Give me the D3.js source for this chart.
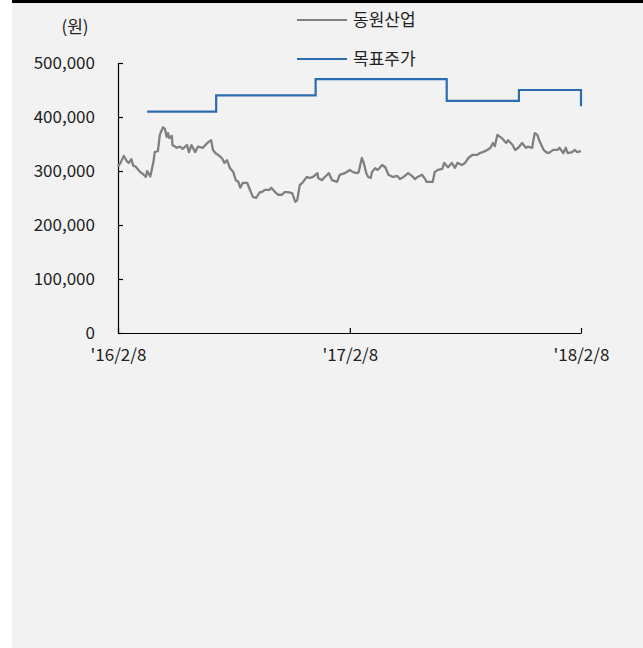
<!DOCTYPE html>
<html>
<head>
<meta charset="utf-8">
<script src="https://cdn.jsdelivr.net/npm/d3@7"></script>
<style>
  body { margin: 0; background: #fff; }
  text { font-family: "Noto Sans CJK KR", "Noto Sans", sans-serif; fill: #222; }
</style>
</head>
<body>
<svg width="643" height="648"></svg>
<script>
// 동원산업 주가 (원)
var priceDates = [
  "2016-02-08","2016-02-12","2016-02-17","2016-02-22","2016-02-25","2016-02-29","2016-03-03","2016-03-07",
  "2016-03-14","2016-03-18","2016-03-23","2016-03-25","2016-03-30","2016-04-04","2016-04-06","2016-04-11",
  "2016-04-14","2016-04-19","2016-04-22","2016-04-25","2016-04-27","2016-04-29","2016-05-03","2016-05-04",
  "2016-05-11","2016-05-16","2016-05-20","2016-05-27","2016-05-30","2016-06-03","2016-06-09","2016-06-13",
  "2016-06-21","2016-06-28","2016-07-04","2016-07-07","2016-07-11","2016-07-15","2016-07-21","2016-07-25",
  "2016-07-29","2016-08-03","2016-08-08","2016-08-12","2016-08-16","2016-08-19","2016-08-23","2016-08-30",
  "2016-09-02","2016-09-08","2016-09-13","2016-09-19","2016-09-22","2016-09-27","2016-10-04","2016-10-07",
  "2016-10-13","2016-10-18","2016-10-24","2016-10-28","2016-11-02","2016-11-09","2016-11-14","2016-11-17",
  "2016-11-21","2016-11-25","2016-12-02","2016-12-07","2016-12-12","2016-12-19","2016-12-20","2016-12-26",
  "2016-12-29","2017-01-06","2017-01-11","2017-01-19","2017-01-23","2017-01-31","2017-02-08","2017-02-13",
  "2017-02-20","2017-02-22","2017-02-27","2017-03-02","2017-03-06","2017-03-09","2017-03-13","2017-03-15",
  "2017-03-20","2017-03-24","2017-03-31","2017-04-05","2017-04-10","2017-04-17","2017-04-24","2017-04-28",
  "2017-05-04","2017-05-11","2017-05-17","2017-05-22","2017-05-26","2017-06-02","2017-06-07","2017-06-09",
  "2017-06-19","2017-06-22","2017-06-27","2017-07-04","2017-07-07","2017-07-13","2017-07-19","2017-07-24",
  "2017-07-28","2017-08-04","2017-08-09","2017-08-14","2017-08-21","2017-08-28","2017-09-01","2017-09-06",
  "2017-09-13","2017-09-18","2017-09-22","2017-09-25","2017-09-29","2017-10-06","2017-10-11","2017-10-13",
  "2017-10-16","2017-10-23","2017-10-27","2017-11-01","2017-11-07","2017-11-13","2017-11-16","2017-11-23",
  "2017-11-24","2017-11-27","2017-12-01","2017-12-05","2017-12-11","2017-12-15","2017-12-19","2017-12-26",
  "2018-01-02","2018-01-05","2018-01-11","2018-01-15","2018-01-18","2018-01-25","2018-01-29","2018-02-02",
  "2018-02-08"
];
var prices = [
  308000,315000,328000,318000,315000,322000,310000,308000,
  298000,295000,289000,300000,290000,317000,335000,337000,
  367000,381000,378000,363000,370000,361000,365000,348000,
  343000,345000,341000,348000,335000,348000,335000,345000,
  343000,352000,357000,339000,333000,330000,324000,315000,
  320000,305000,298000,283000,280000,269000,278000,278000,
  269000,252000,250000,261000,261000,265000,265000,269000,
  261000,256000,256000,261000,261000,259000,243000,246000,
  274000,278000,289000,287000,289000,296000,287000,283000,
  287000,296000,283000,280000,293000,296000,302000,298000,
  296000,298000,324000,315000,296000,289000,287000,298000,
  305000,302000,311000,307000,293000,289000,291000,285000,
  289000,296000,291000,285000,289000,293000,285000,280000,
  280000,298000,302000,304000,315000,307000,315000,306000,
  315000,311000,315000,324000,330000,330000,333000,335000,
  339000,343000,352000,346000,367000,361000,354000,352000,
  357000,348000,339000,343000,352000,343000,345000,343000,
  352000,370000,367000,354000,339000,335000,333000,339000,
  339000,343000,333000,343000,333000,335000,339000,335000,
  337000
];

// 목표주가 (원)
var targetDates = ["2016-03-25","2016-07-12","2016-12-16","2017-07-11","2017-11-02","2018-02-08"];
var targets = [410000, 440000, 470000, 430000, 450000, 420000];

var yTicks = [0, 100000, 200000, 300000, 400000, 500000];
var xTicks = ["2016-02-08", "2017-02-08", "2018-02-08"];
var seriesNames = ["동원산업", "목표주가"];
var unitLabel = "(원)";

var parse = d3.timeParse("%Y-%m-%d");
var priceData = priceDates.map(function(d, i) { return {date: parse(d), value: prices[i]}; });
var targetData = targetDates.map(function(d, i) { return {date: parse(d), value: targets[i]}; });

var svg = d3.select("svg");

// background
svg.append("rect").attr("x", 12).attr("y", 3).attr("width", 631).attr("height", 645).attr("fill", "#f2f2f2");
svg.append("rect").attr("x", 12).attr("y", 0).attr("width", 631).attr("height", 3).attr("fill", "#000");

var x = d3.scaleTime()
  .domain([parse(xTicks[0]), parse(xTicks[2])])
  .range([118, 581]);
var y = d3.scaleLinear()
  .domain([0, 500000])
  .range([333, 63]);

svg.append("g")
  .attr("transform", "translate(118,0)")
  .call(d3.axisLeft(y).tickValues(yTicks).tickFormat(d3.format(",")).tickSizeInner(-5).tickSizeOuter(0).tickPadding(23));

svg.append("g")
  .attr("transform", "translate(0,333)")
  .call(d3.axisBottom(x).tickValues(xTicks.map(parse)).tickFormat(d3.timeFormat("'%y/%-m/%-d")).tickSizeInner(-5).tickSizeOuter(0).tickPadding(16));

svg.selectAll(".domain, .tick line").attr("stroke", "#000").attr("stroke-width", 1.2);
svg.selectAll(".tick text").style("font-size", "17px").attr("fill", "#222");

var priceLine = d3.line()
  .x(function(d) { return x(d.date); })
  .y(function(d) { return y(d.value); });

svg.append("path")
  .datum(priceData)
  .attr("d", priceLine)
  .attr("fill", "none")
  .attr("stroke", "#808080")
  .attr("stroke-width", 2.3)
  .attr("stroke-linejoin", "round");

// last step is a drop at the final date
var tPath = targetData.slice(0, -1);
tPath.push({date: targetData[targetData.length - 1].date, value: targets[targets.length - 2]});
tPath.push(targetData[targetData.length - 1]);
svg.append("path")
  .datum(tPath)
  .attr("d", d3.line().x(function(d) { return x(d.date); }).y(function(d) { return y(d.value); }).curve(d3.curveStepAfter))
  .attr("fill", "none")
  .attr("stroke", "#2e6cb0")
  .attr("stroke-width", 2.2);

// unit label
svg.append("text")
  .attr("x", 75).attr("y", 27)
  .attr("dy", "0.35em")
  .attr("text-anchor", "middle")
  .style("font-size", "17px")
  .text(unitLabel);

// legend
var legendColors = ["#808080", "#2e6cb0"];
var legend = svg.selectAll(".legend")
  .data(seriesNames)
  .enter()
  .append("g")
  .attr("class", "legend")
  .attr("transform", function(d, i) { return "translate(297," + (20 + i * 39) + ")"; });

legend.append("line")
  .attr("x1", 0).attr("x2", 50)
  .attr("stroke", function(d, i) { return legendColors[i]; })
  .attr("stroke-width", 2);

legend.append("text")
  .attr("x", 56)
  .attr("dy", "0.35em")
  .style("font-size", "17px")
  .text(function(d) { return d; });
</script>
</body>
</html>
